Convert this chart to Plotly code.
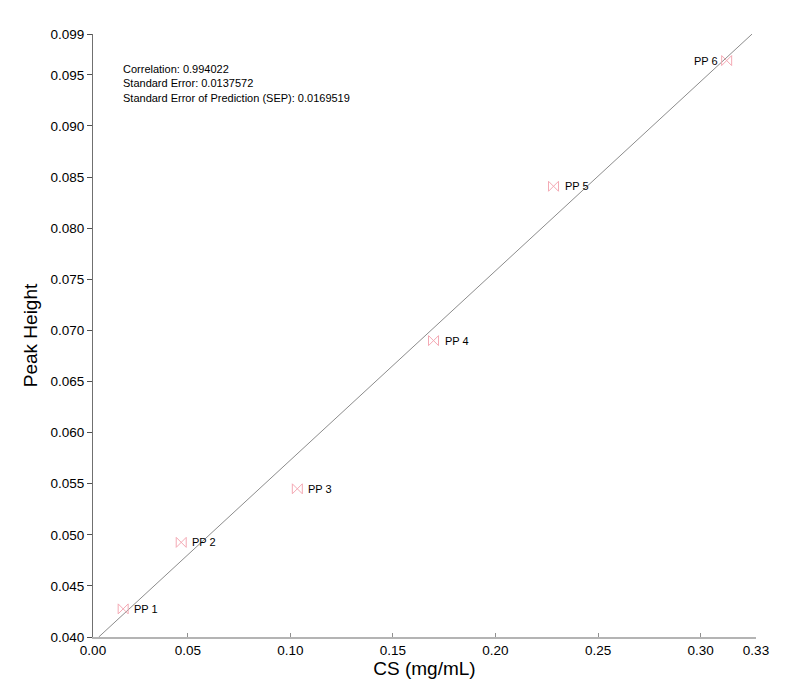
import plotly.graph_objects as go

# calibration points
labels = ["PP 1", "PP 2", "PP 3", "PP 4", "PP 5", "PP 6"]
cs_conc = [0.0185, 0.0468, 0.1034, 0.1698, 0.2283, 0.3127]
peak_height = [0.04275, 0.04926, 0.0545, 0.0690, 0.0841, 0.0964]
label_on_left = [False, False, False, False, False, True]

# regression line end points (it runs corner to corner of the plot box)
fit_x = [0.0066, 0.3251]
fit_y = [0.0400, 0.0990]

# axis limits and ticks
x_range = [0.0038, 0.327]
y_range = [0.040, 0.099]
x_ticks = [0.0038, 0.05, 0.10, 0.15, 0.20, 0.25, 0.30, 0.327]
x_ticktext = ["0.00", "0.05", "0.10", "0.15", "0.20", "0.25", "0.30", "0.33"]
y_ticks = [0.040, 0.045, 0.050, 0.055, 0.060, 0.065, 0.070, 0.075,
           0.080, 0.085, 0.090, 0.095, 0.099]

stats_text = ("Correlation: 0.994022<br>"
              "Standard Error: 0.0137572<br>"
              "Standard Error of Prediction (SEP): 0.0169519")

FONT = "Liberation Sans, Arial, sans-serif"
PAGE_PAD = 8  # default body margin of the html page
W, H = 800 - PAGE_PAD, 693 - PAGE_PAD
# target plot box in page pixels: x 93..756, y 34..637
ML, MT = 93 - PAGE_PAD, 34 - PAGE_PAD
MR, MB = W - (756 - PAGE_PAD), H - (637 - PAGE_PAD)
plot_w = W - ML - MR
plot_h = H - MT - MB

fig = go.Figure()

fig.add_trace(go.Scatter(
    x=fit_x, y=fit_y, mode="lines",
    line=dict(color="#8c8c8c", width=1),
    hoverinfo="skip",
))

fig.add_trace(go.Scatter(
    x=cs_conc, y=peak_height, mode="markers",
    marker=dict(symbol="bowtie-open", size=10, color="#f4a9b4",
                line=dict(width=1, color="#f4a9b4")),
    cliponaxis=False, hovertext=labels,
))

# point labels, pushed a little away from the markers
for lab, xv, yv, left in zip(labels, cs_conc, peak_height, label_on_left):
    fig.add_annotation(
        x=xv, y=yv, xref="x", yref="y", text=lab, showarrow=False,
        xanchor="right" if left else "left", xshift=-7 if left else 9,
        yanchor="middle",
        font=dict(family=FONT, size=11, color="black"),
    )

fig.add_annotation(
    xref="paper", yref="paper",
    x=(121 - 93) / plot_w, y=(637 - 61) / plot_h,
    xanchor="left", yanchor="top", align="left",
    text=stats_text, showarrow=False,
    font=dict(family=FONT, size=11, color="black"),
)

fig.update_layout(
    width=W, height=H,
    margin=dict(l=ML, r=MR, t=MT, b=MB),
    paper_bgcolor="white", plot_bgcolor="white",
    showlegend=False,
    font=dict(family=FONT, color="black"),
    xaxis=dict(
        range=x_range,
        tickvals=x_ticks, ticktext=x_ticktext,
        ticks="inside", ticklen=4, tickcolor="#909090",
        showline=True, linecolor="#b4b4b4", linewidth=2,
        showgrid=False, zeroline=False, automargin=False,
        tickfont=dict(family=FONT, size=13.5, color="black"),
        title=dict(text="CS (mg/mL)", font=dict(family=FONT, size=19), standoff=0),
    ),
    yaxis=dict(
        range=y_range,
        tickvals=y_ticks, tickformat=".3f",
        ticks="outside", ticklen=5, tickcolor="#505050",
        showline=True, linecolor="#707070", linewidth=1,
        showgrid=False, zeroline=False, automargin=False,
        tickfont=dict(family=FONT, size=13.5, color="black"),
        title=dict(text="Peak Height", font=dict(family=FONT, size=19), standoff=7),
    ),
)

fig.write_html("out.html")
